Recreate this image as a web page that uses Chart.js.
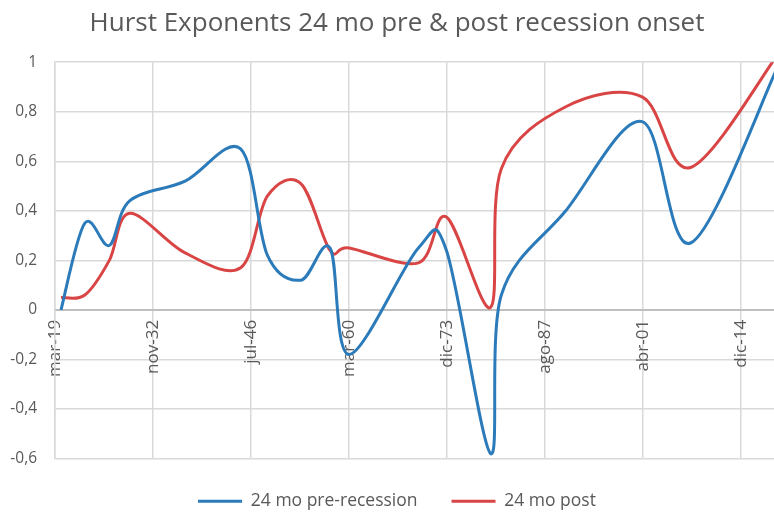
<!DOCTYPE html>
<html>
<head>
<meta charset="utf-8">
<title>Hurst Exponents 24 mo pre & post recession onset</title>
<script src="https://cdn.jsdelivr.net/npm/chart.js@4.4.1/dist/chart.umd.min.js"></script>
<style>
html, body { margin: 0; padding: 0; background: #fff; overflow: hidden; }
</style>
</head>
<body>
<canvas id="hurst_canvas" width="774" height="520"></canvas>
<script>
// data (recession onsets, year-month)

const onsets = ["1920-01", "1923-05", "1926-10", "1929-08", "1937-05", "1945-02", "1948-11", "1953-07", "1957-08",
  "1960-04", "1969-12", "1973-11", "1980-01", "1981-07", "1990-07", "2001-03", "2007-12", "2020-02"];
const preRecession = [0.00, 0.35, 0.26, 0.44, 0.52, 0.65, 0.22, 0.12, 0.25,
  -0.18, 0.25, 0.24, -0.58, 0.06, 0.40, 0.76, 0.27, 0.98];
const postRecession = [0.05, 0.06, 0.20, 0.39, 0.23, 0.17, 0.46, 0.51, 0.24,
  0.25, 0.19, 0.375, 0.01, 0.57, 0.82, 0.86, 0.575, 1.03];

// axis: days since 1919-03-01, excel major unit 5000 days
// (the original picture is cropped on the right)
const tickLabels = ["mar-19", "nov-32", "jul-46", "mar-60", "dic-73", "ago-87", "abr-01", "dic-14"];
const tickStep = 5000;
const axisStart = "1919-03";
const axisEnd = "2019-08";

const textColor = '#595959';
const fontName = "'Open Sans', 'DejaVu Sans', sans-serif";

function toDays(s) {
  const p = s.split('-').map(Number);
  const b = axisStart.split('-').map(Number);
  return (Date.UTC(p[0], p[1] - 1, 1) - Date.UTC(b[0], b[1] - 1, 1)) / 86400000;
}

const pre_points = onsets.map((d, i) => ({ x: toDays(d), y: preRecession[i] }));
const post_points = onsets.map((d, i) => ({ x: toDays(d), y: postRecession[i] }));

// excel style smoothing: bezier handles = 1/6 of the neighbour chord
const excelSmooth = {
  id: 'excelSmooth',
  beforeDatasetsDraw(chart) {
    chart.getSortedVisibleDatasetMetas().forEach(meta => {
      const pts = meta.data;
      for (let i = 0; i < pts.length; i++) {
        const a = pts[Math.max(i - 1, 0)];
        const c = pts[Math.min(i + 1, pts.length - 1)];
        const tx = (c.x - a.x) / 6;
        const ty = (c.y - a.y) / 6;
        pts[i].cp1x = pts[i].x - tx;
        pts[i].cp1y = pts[i].y - ty;
        pts[i].cp2x = pts[i].x + tx;
        pts[i].cp2y = pts[i].y + ty;
      }
      meta.dataset._path = undefined;
    });
  }
};

// title + legend sit a bit right of centre (original chart was wider)
const shiftBlocks = {
  id: 'shiftBlocks',
  afterLayout(chart) {
    [chart.titleBlock, chart.legend].forEach(b => {
      if (b) { b.left += 10; b.right += 10; }
    });
  }
};

const hurst_ctx = document.getElementById('hurst_canvas').getContext('2d');
const hurst_chart = new Chart(hurst_ctx, {
  type: 'line',
  plugins: [excelSmooth, shiftBlocks],
  data: {
    datasets: [
      {
        label: "24 mo pre-recession",
        data: pre_points,
        borderColor: '#2b7bba',
        backgroundColor: '#2b7bba',
        borderWidth: 3,
        pointRadius: 0,
        tension: 0.4,
        fill: false,
      },
      {
        label: "24 mo post",
        data: post_points,
        borderColor: '#d94545',
        backgroundColor: '#d94545',
        borderWidth: 3,
        pointRadius: 0,
        tension: 0.4,
        fill: false,
      },
    ],
  },
  options: {
    responsive: false,
    animation: false,
    layout: { padding: { left: 0, right: 0, top: 0, bottom: 0 } },
    plugins: {
      title: {
        display: true,
        text: 'Hurst Exponents 24 mo pre & post recession onset',
        color: textColor,
        font: { family: fontName, size: 26, weight: 'normal' },
        padding: { top: 8, bottom: 23 },
      },
      legend: {
        position: 'bottom',
        labels: {
          color: textColor,
          font: { family: fontName, size: 17.5 },
          boxWidth: 44,
          boxHeight: 0,
          padding: 34,
        },
      },
      tooltip: { enabled: false },
    },
    scales: {
      x: {
        type: 'linear',
        position: { y: 0 },
        min: 0,
        max: toDays(axisEnd),
        afterBuildTicks: axis => {
          axis.ticks = tickLabels.map((t, i) => ({ value: i * tickStep }));
        },
        ticks: {
          callback: (v, i) => tickLabels[i],
          autoSkip: false,
          minRotation: 90,
          maxRotation: 90,
          color: textColor,
          font: { family: fontName, size: 17 },
          padding: 10,
        },
        grid: { color: '#d9d9d9', lineWidth: 1.5, drawTicks: false },
        border: { color: '#bfbfbf', width: 2 },
      },
      y: {
        min: -0.6,
        max: 1,
        afterFit: axis => { axis.width = 55; },
        ticks: {
          stepSize: 0.2,
          callback: v => Math.abs(v) < 1e-9 ? '0' : String(Math.round(v * 10) / 10).replace('.', ','),
          color: textColor,
          font: { family: fontName, size: 15.5 },
          padding: 18,
        },
        grid: { color: '#d9d9d9', lineWidth: 1.5, drawTicks: false },
        border: { color: '#d9d9d9', width: 1.5 },
      },
    },
  },
});
</script>
</body>
</html>
